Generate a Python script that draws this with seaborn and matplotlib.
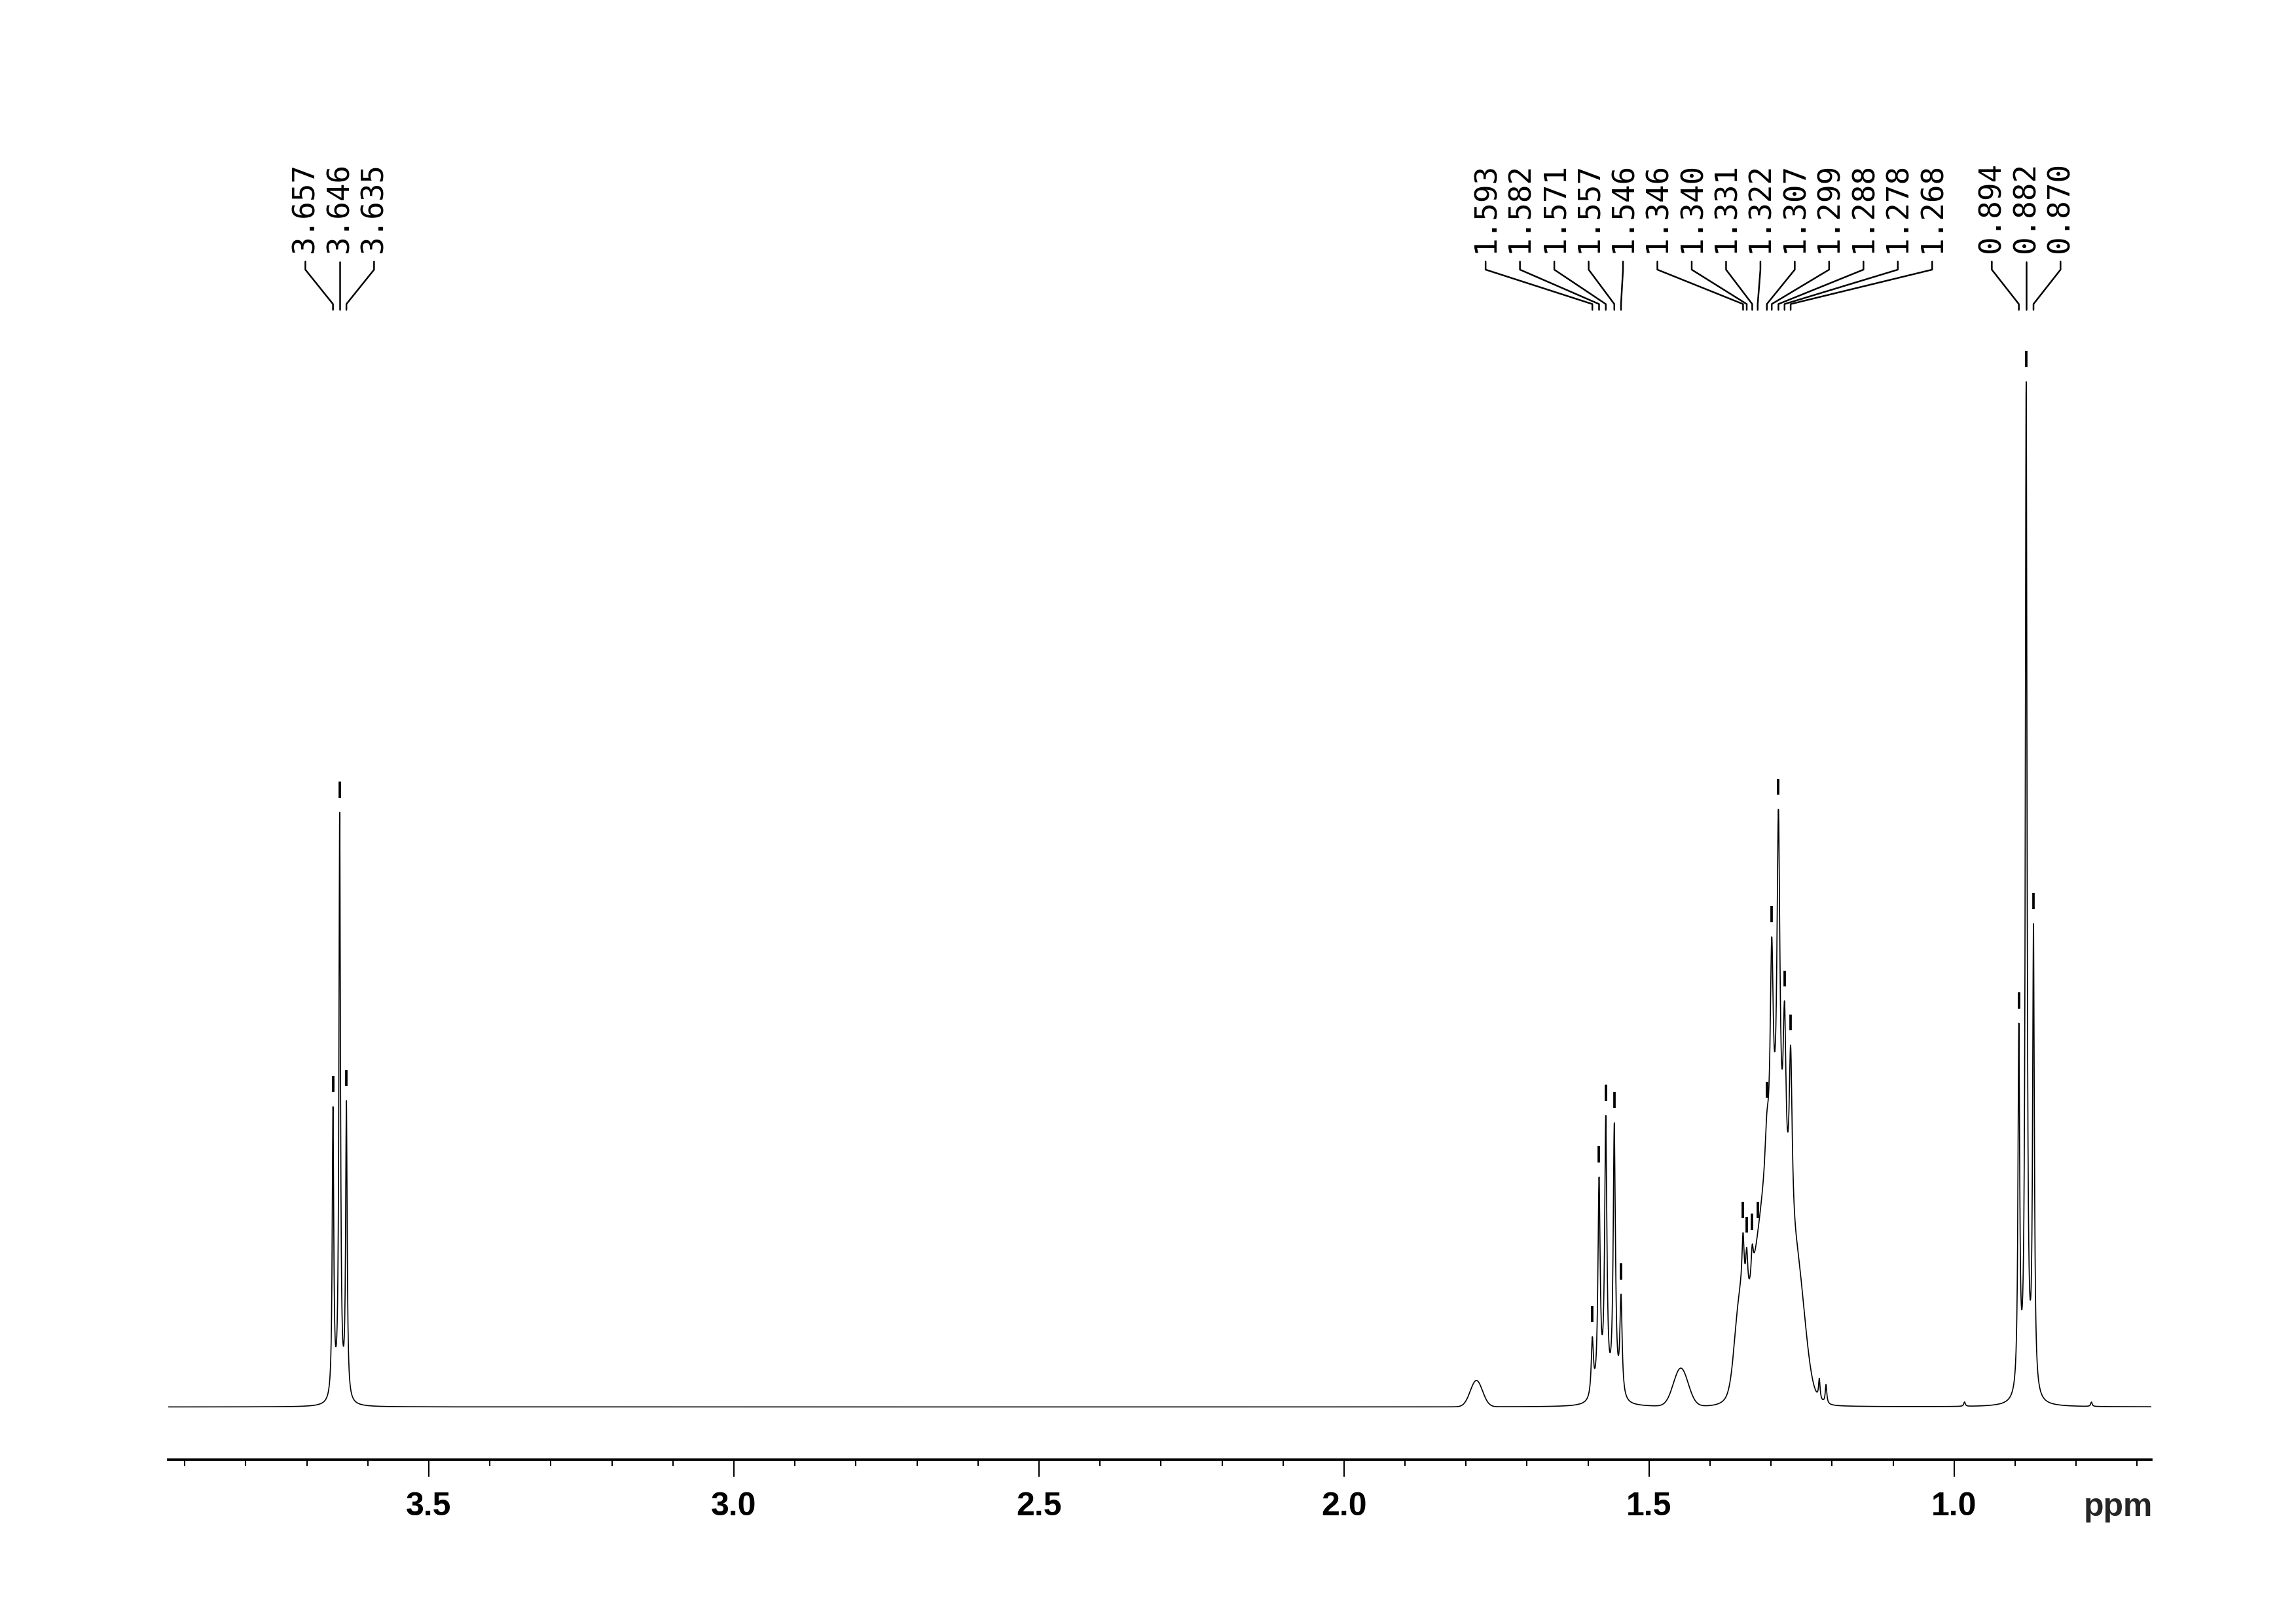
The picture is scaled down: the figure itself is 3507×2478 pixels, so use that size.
import numpy as np
import pandas as pd
import matplotlib
matplotlib.use("Agg")
import matplotlib.pyplot as plt
from matplotlib.ticker import MultipleLocator, FormatStrFormatter
import seaborn as sns

# picked peaks (ppm) and the heights (tallest = 700)
group1_ppm = [3.657, 3.646, 3.635]
group1_height = [205, 406, 209]
group2_ppm = [1.593, 1.582, 1.571, 1.557, 1.546,
              1.346, 1.340, 1.331, 1.322, 1.307, 1.299, 1.288, 1.278, 1.268]
group2_height = [48, 157, 199, 194, 77,
                 119, 109, 111, 108, 201, 321, 408, 277, 247]
group3_ppm = [0.894, 0.882, 0.870]
group3_height = [262, 700, 330]

# line half widths (ppm) of the picked peaks
group1_width = [0.0015] * 3
group2_width = [0.0022] * 5 + [0.0022] * 4 + [0.0035, 0.003, 0.003, 0.003, 0.003]
group3_width = [0.0017] * 3

# unpicked small sharp lines: position, height, half width
small_ppm = [1.221, 1.210, 0.983, 0.775]
small_height = [14, 13, 3, 3]
small_width = [0.0015, 0.0015, 0.0015, 0.0015]

# broad humps (gaussian): centre, height, sigma
broad_ppm = [1.783, 1.448, 1.300, 1.352, 1.255]
broad_height = [18, 26, 150, 45, 50]
broad_sigma = [0.010, 0.012, 0.028, 0.008, 0.012]

x_left, x_right = 3.927, 0.677

picked_ppm = np.array(group1_ppm + group2_ppm + group3_ppm)
picked_height = np.array(group1_height + group2_height + group3_height, float)
picked_width = np.array(group1_width + group2_width + group3_width)

ppm = np.arange(x_right, x_left, 0.0002)


def lorentz(x, c, w):
    return 1.0 / (1.0 + ((x - c) / w) ** 2)


base = np.zeros_like(ppm)
for c, h, s in zip(broad_ppm, broad_height, broad_sigma):
    base += h * np.exp(-0.5 * ((ppm - c) / s) ** 2)
for c, h, w in zip(small_ppm, small_height, small_width):
    base += h * lorentz(ppm, c, w)

# fit amplitudes so that the summed curve reaches the read heights
amp = picked_height.copy()
for _ in range(200):
    total = base + sum(a * lorentz(ppm, c, w) for a, c, w in zip(amp, picked_ppm, picked_width))
    at_peak = np.interp(picked_ppm, ppm, total)
    amp = np.clip(amp + 0.5 * (picked_height - at_peak), 0, None)

intensity = base + sum(a * lorentz(ppm, c, w) for a, c, w in zip(amp, picked_ppm, picked_width))
spec = pd.DataFrame({"ppm": ppm, "intensity": intensity})

sns.set_theme(style="white")
plt.rcParams["font.family"] = ["Liberation Sans", "DejaVu Sans"]

fig = plt.figure(figsize=(11.693, 8.263), dpi=300)
ax = fig.add_axes([257 / 3508, 1 - 2231 / 2479, (3286 - 257) / 3508, 2231 / 2479])

sns.lineplot(data=spec, x="ppm", y="intensity", ax=ax, color="black",
             linewidth=0.4, estimator=None, sort=False)

ax.set_xlim(x_left, x_right)
ax.set_ylim(-36, 961)

# peak markers
peak_top = np.interp(picked_ppm, ppm, intensity)
ax.vlines(picked_ppm, peak_top + 10, peak_top + 21, color="black", linewidth=0.9)

# peak labels with connectors
spacing = 0.0563
for group in (group1_ppm, group2_ppm, group3_ppm):
    n = len(group)
    centre = np.mean(group)
    for i, p in enumerate(group):
        lx = centre + (n - 1) / 2 * spacing - i * spacing
        ax.plot([lx, lx, p, p], [782, 776.5, 753, 749], color="black", linewidth=0.6)
        ax.text(lx, 788.5, f"{p:.3f}", rotation=90, ha="center", va="bottom",
                family="DejaVu Sans Mono", fontsize=11, color="black")

# axis
for side in ("left", "top", "right"):
    ax.spines[side].set_visible(False)
ax.spines["bottom"].set_linewidth(0.9)
ax.spines["bottom"].set_color("black")
ax.set_yticks([])
ax.xaxis.set_major_locator(MultipleLocator(0.5))
ax.xaxis.set_minor_locator(MultipleLocator(0.1))
ax.xaxis.set_major_formatter(FormatStrFormatter("%.1f"))
ax.tick_params(axis="x", which="major", bottom=True, direction="out", length=6.2,
               width=0.5, pad=5.3, labelsize=12, colors="black")
ax.tick_params(axis="x", which="minor", bottom=True, direction="out", length=2.4,
               width=0.5, colors="black")
for lab in ax.get_xticklabels():
    lab.set_fontweight("bold")
ax.set_xlabel("")
ax.set_ylabel("")

fig.text(3235 / 3508, 1 - 2316 / 2479, "ppm", ha="center", va="baseline",
         fontsize=12, fontweight="bold")

fig.savefig("out.png", dpi=300, facecolor="white")
